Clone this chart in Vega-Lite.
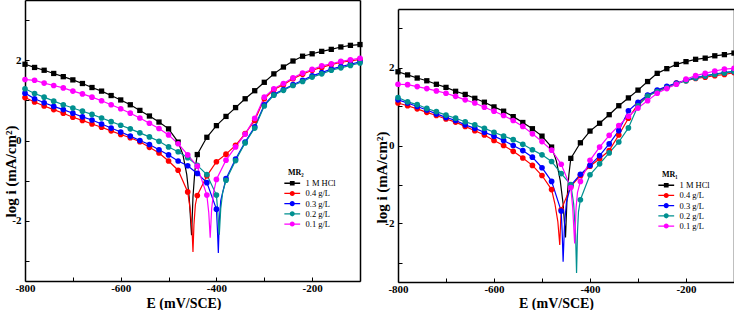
{
"$schema": "https://vega.github.io/schema/vega-lite/v6.json",
"background": "white",
"padding": {"left": 3, "top": 0, "right": 0, "bottom": 0},
"bounds": "flush",
"spacing": 38,
"config": {
  "font": "Liberation Serif",
  "view": {"stroke": null},
  "axis": {"domainColor": "#000", "domainWidth": 1.5, "tickColor": "#000", "tickWidth": 1, "labelColor": "#000", "labelFont": "Liberation Serif", "labelFontSize": 11, "labelFontWeight": "bold", "titleFont": "Liberation Serif", "titleFontSize": 14, "titleFontWeight": "bold", "titleColor": "#000", "grid": false, "labelOverlap": false, "labelFlush": false}
},
"datasets": {
"mr2": [
{"series":"1 M HCl","E":-800,"logi":1.90},{"series":"1 M HCl","E":-780,"logi":1.82},{"series":"1 M HCl","E":-760,"logi":1.75},{"series":"1 M HCl","E":-740,"logi":1.67},{"series":"1 M HCl","E":-720,"logi":1.59},{"series":"1 M HCl","E":-700,"logi":1.51},{"series":"1 M HCl","E":-680,"logi":1.42},{"series":"1 M HCl","E":-660,"logi":1.32},{"series":"1 M HCl","E":-640,"logi":1.23},{"series":"1 M HCl","E":-620,"logi":1.12},{"series":"1 M HCl","E":-600,"logi":1.01},{"series":"1 M HCl","E":-580,"logi":0.89},{"series":"1 M HCl","E":-560,"logi":0.75},{"series":"1 M HCl","E":-540,"logi":0.61},{"series":"1 M HCl","E":-520,"logi":0.46},{"series":"1 M HCl","E":-500,"logi":0.29},{"series":"1 M HCl","E":-480,"logi":-0.04},{"series":"1 M HCl","E":-470,"logi":-0.35},{"series":"1 M HCl","E":-462,"logi":-0.85},{"series":"1 M HCl","E":-457,"logi":-1.40},{"series":"1 M HCl","E":-452,"logi":-2.36},{"series":"1 M HCl","E":-449,"logi":-1.40},{"series":"1 M HCl","E":-445,"logi":-0.75},{"series":"1 M HCl","E":-440,"logi":-0.35},{"series":"1 M HCl","E":-420,"logi":0.08},{"series":"1 M HCl","E":-400,"logi":0.37},{"series":"1 M HCl","E":-380,"logi":0.60},{"series":"1 M HCl","E":-360,"logi":0.82},{"series":"1 M HCl","E":-340,"logi":1.04},{"series":"1 M HCl","E":-320,"logi":1.24},{"series":"1 M HCl","E":-300,"logi":1.45},{"series":"1 M HCl","E":-280,"logi":1.66},{"series":"1 M HCl","E":-260,"logi":1.83},{"series":"1 M HCl","E":-240,"logi":1.98},{"series":"1 M HCl","E":-220,"logi":2.10},{"series":"1 M HCl","E":-200,"logi":2.16},{"series":"1 M HCl","E":-180,"logi":2.22},{"series":"1 M HCl","E":-160,"logi":2.27},{"series":"1 M HCl","E":-140,"logi":2.33},{"series":"1 M HCl","E":-120,"logi":2.37},{"series":"1 M HCl","E":-100,"logi":2.39},
{"series":"0.4 g/L","E":-800,"logi":1.07},{"series":"0.4 g/L","E":-780,"logi":0.96},{"series":"0.4 g/L","E":-760,"logi":0.86},{"series":"0.4 g/L","E":-740,"logi":0.77},{"series":"0.4 g/L","E":-720,"logi":0.68},{"series":"0.4 g/L","E":-700,"logi":0.58},{"series":"0.4 g/L","E":-680,"logi":0.50},{"series":"0.4 g/L","E":-660,"logi":0.41},{"series":"0.4 g/L","E":-640,"logi":0.33},{"series":"0.4 g/L","E":-620,"logi":0.24},{"series":"0.4 g/L","E":-600,"logi":0.15},{"series":"0.4 g/L","E":-580,"logi":0.07},{"series":"0.4 g/L","E":-560,"logi":-0.03},{"series":"0.4 g/L","E":-540,"logi":-0.17},{"series":"0.4 g/L","E":-520,"logi":-0.31},{"series":"0.4 g/L","E":-500,"logi":-0.51},{"series":"0.4 g/L","E":-480,"logi":-0.74},{"series":"0.4 g/L","E":-460,"logi":-1.28},{"series":"0.4 g/L","E":-455,"logi":-1.70},{"series":"0.4 g/L","E":-451,"logi":-2.20},{"series":"0.4 g/L","E":-449,"logi":-2.78},{"series":"0.4 g/L","E":-447,"logi":-2.10},{"series":"0.4 g/L","E":-444,"logi":-1.60},{"series":"0.4 g/L","E":-440,"logi":-1.37},{"series":"0.4 g/L","E":-420,"logi":-0.88},{"series":"0.4 g/L","E":-400,"logi":-0.53},{"series":"0.4 g/L","E":-380,"logi":-0.34},{"series":"0.4 g/L","E":-360,"logi":-0.12},{"series":"0.4 g/L","E":-340,"logi":0.17},{"series":"0.4 g/L","E":-320,"logi":0.50},{"series":"0.4 g/L","E":-300,"logi":1.04},{"series":"0.4 g/L","E":-280,"logi":1.27},{"series":"0.4 g/L","E":-260,"logi":1.39},{"series":"0.4 g/L","E":-240,"logi":1.54},{"series":"0.4 g/L","E":-220,"logi":1.65},{"series":"0.4 g/L","E":-200,"logi":1.75},{"series":"0.4 g/L","E":-180,"logi":1.82},{"series":"0.4 g/L","E":-160,"logi":1.89},{"series":"0.4 g/L","E":-140,"logi":1.95},{"series":"0.4 g/L","E":-120,"logi":1.98},{"series":"0.4 g/L","E":-100,"logi":2.02},
{"series":"0.3 g/L","E":-800,"logi":1.18},{"series":"0.3 g/L","E":-780,"logi":1.04},{"series":"0.3 g/L","E":-760,"logi":0.94},{"series":"0.3 g/L","E":-740,"logi":0.85},{"series":"0.3 g/L","E":-720,"logi":0.77},{"series":"0.3 g/L","E":-700,"logi":0.68},{"series":"0.3 g/L","E":-680,"logi":0.59},{"series":"0.3 g/L","E":-660,"logi":0.51},{"series":"0.3 g/L","E":-640,"logi":0.41},{"series":"0.3 g/L","E":-620,"logi":0.31},{"series":"0.3 g/L","E":-600,"logi":0.21},{"series":"0.3 g/L","E":-580,"logi":0.11},{"series":"0.3 g/L","E":-560,"logi":0.00},{"series":"0.3 g/L","E":-540,"logi":-0.10},{"series":"0.3 g/L","E":-520,"logi":-0.23},{"series":"0.3 g/L","E":-500,"logi":-0.36},{"series":"0.3 g/L","E":-480,"logi":-0.51},{"series":"0.3 g/L","E":-460,"logi":-0.63},{"series":"0.3 g/L","E":-440,"logi":-0.82},{"series":"0.3 g/L","E":-420,"logi":-1.05},{"series":"0.3 g/L","E":-400,"logi":-1.71},{"series":"0.3 g/L","E":-398,"logi":-2.20},{"series":"0.3 g/L","E":-396,"logi":-2.80},{"series":"0.3 g/L","E":-394,"logi":-2.00},{"series":"0.3 g/L","E":-391,"logi":-1.50},{"series":"0.3 g/L","E":-380,"logi":-0.95},{"series":"0.3 g/L","E":-360,"logi":-0.46},{"series":"0.3 g/L","E":-340,"logi":-0.04},{"series":"0.3 g/L","E":-320,"logi":0.34},{"series":"0.3 g/L","E":-300,"logi":0.89},{"series":"0.3 g/L","E":-280,"logi":1.15},{"series":"0.3 g/L","E":-260,"logi":1.27},{"series":"0.3 g/L","E":-240,"logi":1.39},{"series":"0.3 g/L","E":-220,"logi":1.50},{"series":"0.3 g/L","E":-200,"logi":1.61},{"series":"0.3 g/L","E":-180,"logi":1.69},{"series":"0.3 g/L","E":-160,"logi":1.78},{"series":"0.3 g/L","E":-140,"logi":1.84},{"series":"0.3 g/L","E":-120,"logi":1.90},{"series":"0.3 g/L","E":-100,"logi":1.96},
{"series":"0.2 g/L","E":-800,"logi":1.29},{"series":"0.2 g/L","E":-780,"logi":1.17},{"series":"0.2 g/L","E":-760,"logi":1.08},{"series":"0.2 g/L","E":-740,"logi":0.98},{"series":"0.2 g/L","E":-720,"logi":0.89},{"series":"0.2 g/L","E":-700,"logi":0.81},{"series":"0.2 g/L","E":-680,"logi":0.73},{"series":"0.2 g/L","E":-660,"logi":0.65},{"series":"0.2 g/L","E":-640,"logi":0.56},{"series":"0.2 g/L","E":-620,"logi":0.47},{"series":"0.2 g/L","E":-600,"logi":0.38},{"series":"0.2 g/L","E":-580,"logi":0.29},{"series":"0.2 g/L","E":-560,"logi":0.19},{"series":"0.2 g/L","E":-540,"logi":0.09},{"series":"0.2 g/L","E":-520,"logi":-0.02},{"series":"0.2 g/L","E":-500,"logi":-0.16},{"series":"0.2 g/L","E":-480,"logi":-0.28},{"series":"0.2 g/L","E":-460,"logi":-0.43},{"series":"0.2 g/L","E":-440,"logi":-0.62},{"series":"0.2 g/L","E":-420,"logi":-0.85},{"series":"0.2 g/L","E":-400,"logi":-1.36},{"series":"0.2 g/L","E":-397,"logi":-1.80},{"series":"0.2 g/L","E":-394,"logi":-2.35},{"series":"0.2 g/L","E":-391,"logi":-1.70},{"series":"0.2 g/L","E":-387,"logi":-1.30},{"series":"0.2 g/L","E":-380,"logi":-0.99},{"series":"0.2 g/L","E":-360,"logi":-0.50},{"series":"0.2 g/L","E":-340,"logi":-0.06},{"series":"0.2 g/L","E":-320,"logi":0.31},{"series":"0.2 g/L","E":-300,"logi":0.86},{"series":"0.2 g/L","E":-280,"logi":1.13},{"series":"0.2 g/L","E":-260,"logi":1.25},{"series":"0.2 g/L","E":-240,"logi":1.37},{"series":"0.2 g/L","E":-220,"logi":1.47},{"series":"0.2 g/L","E":-200,"logi":1.58},{"series":"0.2 g/L","E":-180,"logi":1.66},{"series":"0.2 g/L","E":-160,"logi":1.75},{"series":"0.2 g/L","E":-140,"logi":1.81},{"series":"0.2 g/L","E":-120,"logi":1.87},{"series":"0.2 g/L","E":-100,"logi":1.93},
{"series":"0.1 g/L","E":-800,"logi":1.52},{"series":"0.1 g/L","E":-780,"logi":1.50},{"series":"0.1 g/L","E":-760,"logi":1.43},{"series":"0.1 g/L","E":-740,"logi":1.37},{"series":"0.1 g/L","E":-720,"logi":1.31},{"series":"0.1 g/L","E":-700,"logi":1.23},{"series":"0.1 g/L","E":-680,"logi":1.16},{"series":"0.1 g/L","E":-660,"logi":1.08},{"series":"0.1 g/L","E":-640,"logi":0.99},{"series":"0.1 g/L","E":-620,"logi":0.89},{"series":"0.1 g/L","E":-600,"logi":0.79},{"series":"0.1 g/L","E":-580,"logi":0.68},{"series":"0.1 g/L","E":-560,"logi":0.56},{"series":"0.1 g/L","E":-540,"logi":0.43},{"series":"0.1 g/L","E":-520,"logi":0.30},{"series":"0.1 g/L","E":-500,"logi":0.14},{"series":"0.1 g/L","E":-480,"logi":-0.08},{"series":"0.1 g/L","E":-460,"logi":-0.36},{"series":"0.1 g/L","E":-440,"logi":-0.64},{"series":"0.1 g/L","E":-420,"logi":-1.36},{"series":"0.1 g/L","E":-416,"logi":-1.80},{"series":"0.1 g/L","E":-413,"logi":-2.42},{"series":"0.1 g/L","E":-410,"logi":-1.70},{"series":"0.1 g/L","E":-406,"logi":-1.30},{"series":"0.1 g/L","E":-400,"logi":-0.97},{"series":"0.1 g/L","E":-380,"logi":-0.49},{"series":"0.1 g/L","E":-360,"logi":-0.16},{"series":"0.1 g/L","E":-340,"logi":0.16},{"series":"0.1 g/L","E":-320,"logi":0.55},{"series":"0.1 g/L","E":-300,"logi":1.08},{"series":"0.1 g/L","E":-280,"logi":1.29},{"series":"0.1 g/L","E":-260,"logi":1.42},{"series":"0.1 g/L","E":-240,"logi":1.56},{"series":"0.1 g/L","E":-220,"logi":1.68},{"series":"0.1 g/L","E":-200,"logi":1.77},{"series":"0.1 g/L","E":-180,"logi":1.86},{"series":"0.1 g/L","E":-160,"logi":1.91},{"series":"0.1 g/L","E":-140,"logi":1.97},{"series":"0.1 g/L","E":-120,"logi":2.01},{"series":"0.1 g/L","E":-100,"logi":2.05}
],
"mr1": [
{"series":"1 M HCl","E":-800,"logi":1.89},{"series":"1 M HCl","E":-780,"logi":1.81},{"series":"1 M HCl","E":-760,"logi":1.73},{"series":"1 M HCl","E":-740,"logi":1.66},{"series":"1 M HCl","E":-720,"logi":1.57},{"series":"1 M HCl","E":-700,"logi":1.49},{"series":"1 M HCl","E":-680,"logi":1.39},{"series":"1 M HCl","E":-660,"logi":1.31},{"series":"1 M HCl","E":-640,"logi":1.21},{"series":"1 M HCl","E":-620,"logi":1.11},{"series":"1 M HCl","E":-600,"logi":0.99},{"series":"1 M HCl","E":-580,"logi":0.88},{"series":"1 M HCl","E":-560,"logi":0.74},{"series":"1 M HCl","E":-540,"logi":0.59},{"series":"1 M HCl","E":-520,"logi":0.43},{"series":"1 M HCl","E":-500,"logi":0.24},{"series":"1 M HCl","E":-480,"logi":-0.04},{"series":"1 M HCl","E":-470,"logi":-0.40},{"series":"1 M HCl","E":-462,"logi":-0.90},{"series":"1 M HCl","E":-456,"logi":-1.50},{"series":"1 M HCl","E":-451,"logi":-2.36},{"series":"1 M HCl","E":-448,"logi":-1.40},{"series":"1 M HCl","E":-444,"logi":-0.75},{"series":"1 M HCl","E":-440,"logi":-0.33},{"series":"1 M HCl","E":-420,"logi":0.07},{"series":"1 M HCl","E":-400,"logi":0.37},{"series":"1 M HCl","E":-380,"logi":0.57},{"series":"1 M HCl","E":-360,"logi":0.79},{"series":"1 M HCl","E":-340,"logi":1.02},{"series":"1 M HCl","E":-320,"logi":1.22},{"series":"1 M HCl","E":-300,"logi":1.42},{"series":"1 M HCl","E":-280,"logi":1.64},{"series":"1 M HCl","E":-260,"logi":1.85},{"series":"1 M HCl","E":-240,"logi":1.97},{"series":"1 M HCl","E":-220,"logi":2.08},{"series":"1 M HCl","E":-200,"logi":2.15},{"series":"1 M HCl","E":-180,"logi":2.21},{"series":"1 M HCl","E":-160,"logi":2.24},{"series":"1 M HCl","E":-140,"logi":2.30},{"series":"1 M HCl","E":-120,"logi":2.33},{"series":"1 M HCl","E":-100,"logi":2.37},
{"series":"0.4 g/L","E":-800,"logi":1.09},{"series":"0.4 g/L","E":-780,"logi":1.02},{"series":"0.4 g/L","E":-760,"logi":0.94},{"series":"0.4 g/L","E":-740,"logi":0.85},{"series":"0.4 g/L","E":-720,"logi":0.77},{"series":"0.4 g/L","E":-700,"logi":0.68},{"series":"0.4 g/L","E":-680,"logi":0.60},{"series":"0.4 g/L","E":-660,"logi":0.49},{"series":"0.4 g/L","E":-640,"logi":0.38},{"series":"0.4 g/L","E":-620,"logi":0.27},{"series":"0.4 g/L","E":-600,"logi":0.13},{"series":"0.4 g/L","E":-580,"logi":0.00},{"series":"0.4 g/L","E":-560,"logi":-0.15},{"series":"0.4 g/L","E":-540,"logi":-0.32},{"series":"0.4 g/L","E":-520,"logi":-0.51},{"series":"0.4 g/L","E":-500,"logi":-0.77},{"series":"0.4 g/L","E":-480,"logi":-1.13},{"series":"0.4 g/L","E":-473,"logi":-1.50},{"series":"0.4 g/L","E":-467,"logi":-1.95},{"series":"0.4 g/L","E":-463,"logi":-2.55},{"series":"0.4 g/L","E":-461,"logi":-1.90},{"series":"0.4 g/L","E":-460,"logi":-1.65},{"series":"0.4 g/L","E":-440,"logi":-1.05},{"series":"0.4 g/L","E":-420,"logi":-0.77},{"series":"0.4 g/L","E":-400,"logi":-0.53},{"series":"0.4 g/L","E":-380,"logi":-0.34},{"series":"0.4 g/L","E":-360,"logi":-0.13},{"series":"0.4 g/L","E":-340,"logi":0.27},{"series":"0.4 g/L","E":-320,"logi":0.70},{"series":"0.4 g/L","E":-300,"logi":1.06},{"series":"0.4 g/L","E":-280,"logi":1.28},{"series":"0.4 g/L","E":-260,"logi":1.40},{"series":"0.4 g/L","E":-240,"logi":1.49},{"series":"0.4 g/L","E":-220,"logi":1.60},{"series":"0.4 g/L","E":-200,"logi":1.66},{"series":"0.4 g/L","E":-180,"logi":1.72},{"series":"0.4 g/L","E":-160,"logi":1.75},{"series":"0.4 g/L","E":-140,"logi":1.79},{"series":"0.4 g/L","E":-120,"logi":1.82},{"series":"0.4 g/L","E":-100,"logi":1.87},
{"series":"0.3 g/L","E":-800,"logi":1.17},{"series":"0.3 g/L","E":-780,"logi":1.09},{"series":"0.3 g/L","E":-760,"logi":1.00},{"series":"0.3 g/L","E":-740,"logi":0.91},{"series":"0.3 g/L","E":-720,"logi":0.81},{"series":"0.3 g/L","E":-700,"logi":0.72},{"series":"0.3 g/L","E":-680,"logi":0.64},{"series":"0.3 g/L","E":-660,"logi":0.53},{"series":"0.3 g/L","E":-640,"logi":0.44},{"series":"0.3 g/L","E":-620,"logi":0.34},{"series":"0.3 g/L","E":-600,"logi":0.24},{"series":"0.3 g/L","E":-580,"logi":0.13},{"series":"0.3 g/L","E":-560,"logi":0.00},{"series":"0.3 g/L","E":-540,"logi":-0.13},{"series":"0.3 g/L","E":-520,"logi":-0.30},{"series":"0.3 g/L","E":-500,"logi":-0.57},{"series":"0.3 g/L","E":-480,"logi":-0.92},{"series":"0.3 g/L","E":-460,"logi":-1.68},{"series":"0.3 g/L","E":-458,"logi":-2.20},{"series":"0.3 g/L","E":-456,"logi":-2.98},{"series":"0.3 g/L","E":-453,"logi":-2.00},{"series":"0.3 g/L","E":-449,"logi":-1.45},{"series":"0.3 g/L","E":-440,"logi":-1.02},{"series":"0.3 g/L","E":-420,"logi":-0.74},{"series":"0.3 g/L","E":-400,"logi":-0.51},{"series":"0.3 g/L","E":-380,"logi":-0.26},{"series":"0.3 g/L","E":-360,"logi":0.04},{"series":"0.3 g/L","E":-340,"logi":0.38},{"series":"0.3 g/L","E":-320,"logi":0.89},{"series":"0.3 g/L","E":-300,"logi":1.11},{"series":"0.3 g/L","E":-280,"logi":1.29},{"series":"0.3 g/L","E":-260,"logi":1.42},{"series":"0.3 g/L","E":-240,"logi":1.52},{"series":"0.3 g/L","E":-220,"logi":1.60},{"series":"0.3 g/L","E":-200,"logi":1.67},{"series":"0.3 g/L","E":-180,"logi":1.74},{"series":"0.3 g/L","E":-160,"logi":1.79},{"series":"0.3 g/L","E":-140,"logi":1.83},{"series":"0.3 g/L","E":-120,"logi":1.87},{"series":"0.3 g/L","E":-100,"logi":1.90},
{"series":"0.2 g/L","E":-800,"logi":1.23},{"series":"0.2 g/L","E":-780,"logi":1.12},{"series":"0.2 g/L","E":-760,"logi":1.05},{"series":"0.2 g/L","E":-740,"logi":0.95},{"series":"0.2 g/L","E":-720,"logi":0.87},{"series":"0.2 g/L","E":-700,"logi":0.78},{"series":"0.2 g/L","E":-680,"logi":0.70},{"series":"0.2 g/L","E":-660,"logi":0.61},{"series":"0.2 g/L","E":-640,"logi":0.53},{"series":"0.2 g/L","E":-620,"logi":0.44},{"series":"0.2 g/L","E":-600,"logi":0.34},{"series":"0.2 g/L","E":-580,"logi":0.24},{"series":"0.2 g/L","E":-560,"logi":0.15},{"series":"0.2 g/L","E":-540,"logi":0.03},{"series":"0.2 g/L","E":-520,"logi":-0.11},{"series":"0.2 g/L","E":-500,"logi":-0.24},{"series":"0.2 g/L","E":-480,"logi":-0.41},{"series":"0.2 g/L","E":-460,"logi":-0.72},{"series":"0.2 g/L","E":-440,"logi":-1.00},{"series":"0.2 g/L","E":-434,"logi":-1.50},{"series":"0.2 g/L","E":-430,"logi":-2.30},{"series":"0.2 g/L","E":-428,"logi":-3.27},{"series":"0.2 g/L","E":-426,"logi":-2.20},{"series":"0.2 g/L","E":-424,"logi":-1.70},{"series":"0.2 g/L","E":-420,"logi":-1.39},{"series":"0.2 g/L","E":-400,"logi":-0.75},{"series":"0.2 g/L","E":-380,"logi":-0.47},{"series":"0.2 g/L","E":-360,"logi":-0.19},{"series":"0.2 g/L","E":-340,"logi":0.09},{"series":"0.2 g/L","E":-320,"logi":0.45},{"series":"0.2 g/L","E":-300,"logi":1.02},{"series":"0.2 g/L","E":-280,"logi":1.27},{"series":"0.2 g/L","E":-260,"logi":1.38},{"series":"0.2 g/L","E":-240,"logi":1.48},{"series":"0.2 g/L","E":-220,"logi":1.58},{"series":"0.2 g/L","E":-200,"logi":1.66},{"series":"0.2 g/L","E":-180,"logi":1.73},{"series":"0.2 g/L","E":-160,"logi":1.78},{"series":"0.2 g/L","E":-140,"logi":1.82},{"series":"0.2 g/L","E":-120,"logi":1.86},{"series":"0.2 g/L","E":-100,"logi":1.90},
{"series":"0.1 g/L","E":-800,"logi":1.57},{"series":"0.1 g/L","E":-780,"logi":1.56},{"series":"0.1 g/L","E":-760,"logi":1.51},{"series":"0.1 g/L","E":-740,"logi":1.46},{"series":"0.1 g/L","E":-720,"logi":1.40},{"series":"0.1 g/L","E":-700,"logi":1.34},{"series":"0.1 g/L","E":-680,"logi":1.26},{"series":"0.1 g/L","E":-660,"logi":1.17},{"series":"0.1 g/L","E":-640,"logi":1.09},{"series":"0.1 g/L","E":-620,"logi":0.98},{"series":"0.1 g/L","E":-600,"logi":0.88},{"series":"0.1 g/L","E":-580,"logi":0.77},{"series":"0.1 g/L","E":-560,"logi":0.64},{"series":"0.1 g/L","E":-540,"logi":0.49},{"series":"0.1 g/L","E":-520,"logi":0.30},{"series":"0.1 g/L","E":-500,"logi":0.10},{"series":"0.1 g/L","E":-480,"logi":-0.12},{"series":"0.1 g/L","E":-460,"logi":-0.48},{"series":"0.1 g/L","E":-440,"logi":-1.08},{"series":"0.1 g/L","E":-436,"logi":-1.60},{"series":"0.1 g/L","E":-432,"logi":-2.51},{"series":"0.1 g/L","E":-429,"logi":-1.60},{"series":"0.1 g/L","E":-426,"logi":-1.20},{"series":"0.1 g/L","E":-420,"logi":-0.92},{"series":"0.1 g/L","E":-400,"logi":-0.38},{"series":"0.1 g/L","E":-380,"logi":-0.04},{"series":"0.1 g/L","E":-360,"logi":0.26},{"series":"0.1 g/L","E":-340,"logi":0.51},{"series":"0.1 g/L","E":-320,"logi":0.75},{"series":"0.1 g/L","E":-300,"logi":0.96},{"series":"0.1 g/L","E":-280,"logi":1.15},{"series":"0.1 g/L","E":-260,"logi":1.34},{"series":"0.1 g/L","E":-240,"logi":1.46},{"series":"0.1 g/L","E":-220,"logi":1.57},{"series":"0.1 g/L","E":-200,"logi":1.70},{"series":"0.1 g/L","E":-180,"logi":1.79},{"series":"0.1 g/L","E":-160,"logi":1.85},{"series":"0.1 g/L","E":-140,"logi":1.91},{"series":"0.1 g/L","E":-120,"logi":1.96},{"series":"0.1 g/L","E":-100,"logi":1.98}
]
},
"resolve": {"scale": {"color": "independent"}, "legend": {"color": "independent"}},
"hconcat": [
{
  "width": 335, "height": 281,
  "data": {"name": "mr2"},
  "layer": [
    {
      "mark": {"type": "line", "strokeWidth": 1.2},
      "encoding": {
        "x": {"field": "E", "type": "quantitative", "scale": {"domain": [-800, -100], "nice": false, "zero": false},
              "axis": {"values": [-800,-700,-600,-500,-400,-300,-200,-100], "labelExpr": "datum.value % 200 == 0 ? '' + datum.value : ''", "title": "E (mV/SCE)", "tickSize": -4, "labelPadding": 5.5, "titleX": 158.5, "titleY": 26, "titleBaseline": "alphabetic", "titleAlign": "center"}},
        "y": {"field": "logi", "type": "quantitative", "scale": {"domain": [-3.5, 3.5], "nice": false, "zero": false},
              "axis": {"values": [-3,-2,-1,0,1,2,3], "labelExpr": "datum.value % 2 == 0 ? '' + datum.value : ''", "title": "log i (mA/cm²)", "titleFontSize": 15, "tickSize": -4, "labelPadding": 8, "titleX": -10, "titleY": 171, "titleBaseline": "alphabetic", "titleAlign": "center", "titleAngle": 270}},
        "color": {"field": "series", "type": "nominal",
                  "scale": {"domain": ["1 M HCl","0.4 g/L","0.3 g/L","0.2 g/L","0.1 g/L"], "range": ["#000000","#ff0000","#0000ff","#009090","#ff00ff"]},
                  "legend": {"title": "MR₂", "orient": "none", "legendX": 263, "legendY": 169, "padding": 0, "titleFont": "Liberation Serif", "titleFontSize": 8, "titleFontWeight": "bold", "titleColor": "#000", "titleAnchor": "start", "titlePadding": 2, "labelFont": "Liberation Serif", "labelFontSize": 8.5, "labelColor": "#000", "labelOffset": 9, "rowPadding": 1.2, "symbolSize": 40,
                    "symbolType": "M-2.5,-0.2H2.5V0.2H-2.5ZM0.8,0A0.8,0.8,0,1,1,-0.8,0A0.8,0.8,0,1,1,0.8,0Z",
                    "encode": {"symbols": {"update": {
                      "shape": {"signal": "datum.value === '1 M HCl' ? 'M-2.5,-0.2H2.5V0.2H-2.5ZM-0.75,-0.75H0.75V0.75H-0.75Z' : 'M-2.5,-0.2H2.5V0.2H-2.5ZM0.8,0A0.8,0.8,0,1,1,-0.8,0A0.8,0.8,0,1,1,0.8,0Z'"},
                      "fill": {"signal": "({'1 M HCl':'#000000','0.4 g/L':'#ff0000','0.3 g/L':'#0000ff','0.2 g/L':'#009090','0.1 g/L':'#ff00ff'})[datum.value]"},
                      "size": {"value": 40}, "strokeWidth": {"value": 0}, "opacity": {"value": 1}, "fillOpacity": {"value": 1}}}}}}
      }
    },
    {
      "transform": [{"filter": "datum.E % 20 == 0 && datum.series === '1 M HCl'"}],
      "mark": {"type": "point", "shape": "square", "filled": true, "opacity": 1, "size": 28},
      "encoding": {
        "x": {"field": "E", "type": "quantitative", "scale": {"domain": [-800, -100], "nice": false, "zero": false}, "axis": {"orient": "top", "labels": false, "ticks": false, "title": null}},
        "y": {"field": "logi", "type": "quantitative", "scale": {"domain": [-3.5, 3.5], "nice": false, "zero": false}, "axis": {"orient": "right", "labels": false, "ticks": false, "title": null}},
        "color": {"field": "series", "type": "nominal", "legend": null}
      }
    },
    {
      "transform": [{"filter": "datum.E % 20 == 0 && datum.series !== '1 M HCl'"}],
      "mark": {"type": "point", "shape": "circle", "filled": true, "opacity": 1, "size": 32},
      "encoding": {
        "x": {"field": "E", "type": "quantitative", "axis": null},
        "y": {"field": "logi", "type": "quantitative", "axis": null},
        "color": {"field": "series", "type": "nominal", "legend": null}
      }
    }
  ],
  "resolve": {"axis": {"x": "independent", "y": "independent"}}
},
{
  "width": 336, "height": 282,
  "data": {"name": "mr1"},
  "layer": [
    {
      "mark": {"type": "line", "strokeWidth": 1.2},
      "encoding": {
        "x": {"field": "E", "type": "quantitative", "scale": {"domain": [-800, -100], "nice": false, "zero": false},
              "axis": {"values": [-800,-700,-600,-500,-400,-300,-200,-100], "labelExpr": "datum.value % 200 == 0 ? '' + datum.value : ''", "title": "E (mV/SCE)", "tickSize": -4, "labelPadding": 5.5, "titleX": 158, "titleY": 25, "titleBaseline": "alphabetic", "titleAlign": "center"}},
        "y": {"field": "logi", "type": "quantitative", "scale": {"domain": [-3.5, 3.5], "nice": false, "zero": false, "range": [282, 9]},
              "axis": {"values": [-3,-2,-1,0,1,2,3], "labelExpr": "datum.value % 2 == 0 ? '' + datum.value : ''", "title": "log i (mA/cm²)", "titleFontSize": 15, "tickSize": -4, "labelPadding": 8, "titleX": -11.5, "titleY": 177, "titleBaseline": "alphabetic", "titleAlign": "center", "titleAngle": 270}},
        "color": {"field": "series", "type": "nominal",
                  "scale": {"domain": ["1 M HCl","0.4 g/L","0.3 g/L","0.2 g/L","0.1 g/L"], "range": ["#000000","#ff0000","#0000ff","#009090","#ff00ff"]},
                  "legend": {"title": "MR₁", "orient": "none", "legendX": 264, "legendY": 171, "padding": 0, "titleFont": "Liberation Serif", "titleFontSize": 8, "titleFontWeight": "bold", "titleColor": "#000", "titleAnchor": "start", "titlePadding": 2, "labelFont": "Liberation Serif", "labelFontSize": 8.5, "labelColor": "#000", "labelOffset": 9, "rowPadding": 1.2, "symbolSize": 40,
                    "symbolType": "M-2.5,-0.2H2.5V0.2H-2.5ZM0.8,0A0.8,0.8,0,1,1,-0.8,0A0.8,0.8,0,1,1,0.8,0Z",
                    "encode": {"symbols": {"update": {
                      "shape": {"signal": "datum.value === '1 M HCl' ? 'M-2.5,-0.2H2.5V0.2H-2.5ZM-0.75,-0.75H0.75V0.75H-0.75Z' : 'M-2.5,-0.2H2.5V0.2H-2.5ZM0.8,0A0.8,0.8,0,1,1,-0.8,0A0.8,0.8,0,1,1,0.8,0Z'"},
                      "fill": {"signal": "({'1 M HCl':'#000000','0.4 g/L':'#ff0000','0.3 g/L':'#0000ff','0.2 g/L':'#009090','0.1 g/L':'#ff00ff'})[datum.value]"},
                      "size": {"value": 40}, "strokeWidth": {"value": 0}, "opacity": {"value": 1}, "fillOpacity": {"value": 1}}}}}}
      }
    },
    {
      "transform": [{"filter": "datum.E % 20 == 0 && datum.series === '1 M HCl'"}],
      "mark": {"type": "point", "shape": "square", "filled": true, "opacity": 1, "size": 28},
      "encoding": {
        "x": {"field": "E", "type": "quantitative", "scale": {"domain": [-800, -100], "nice": false, "zero": false}, "axis": {"orient": "top", "labels": false, "ticks": false, "title": null, "offset": -9}},
        "y": {"field": "logi", "type": "quantitative", "scale": {"domain": [-3.5, 3.5], "nice": false, "zero": false, "range": [282, 9]}, "axis": {"orient": "right", "labels": false, "ticks": false, "title": null}},
        "color": {"field": "series", "type": "nominal", "legend": null}
      }
    },
    {
      "transform": [{"filter": "datum.E % 20 == 0 && datum.series !== '1 M HCl'"}],
      "mark": {"type": "point", "shape": "circle", "filled": true, "opacity": 1, "size": 32},
      "encoding": {
        "x": {"field": "E", "type": "quantitative", "axis": null},
        "y": {"field": "logi", "type": "quantitative", "axis": null},
        "color": {"field": "series", "type": "nominal", "legend": null}
      }
    }
  ],
  "resolve": {"axis": {"x": "independent", "y": "independent"}}
}
]
}
